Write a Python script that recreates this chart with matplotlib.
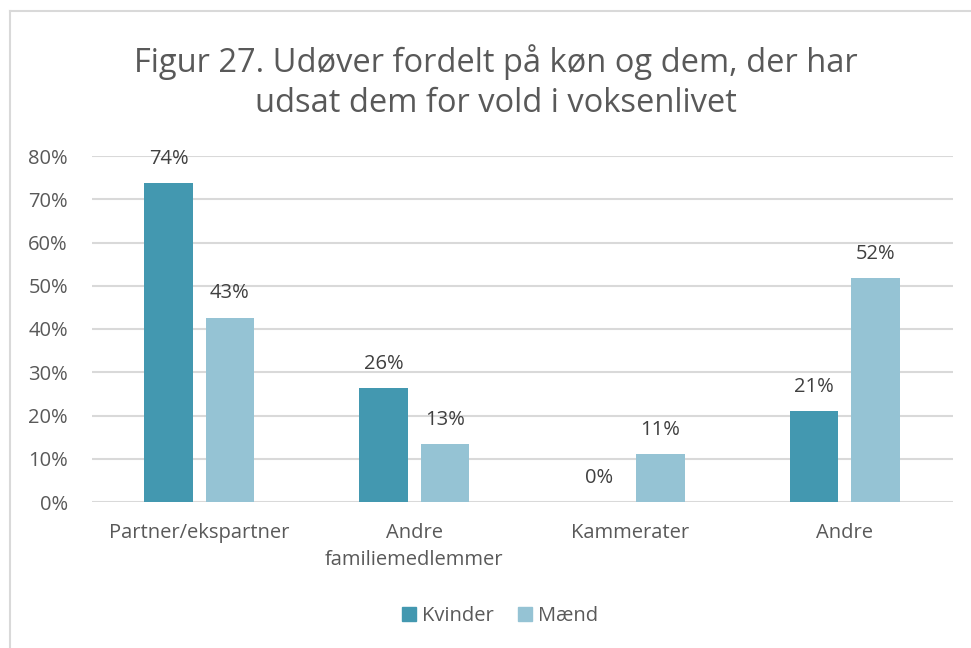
import numpy as np
import matplotlib.pyplot as plt
from matplotlib.lines import Line2D
from matplotlib.patches import Patch

#_Data__________________________________________________________________________
categories = ['Partner/ekspartner', 'Andre\nfamiliemedlemmer', 'Kammerater', 'Andre']
kvinder = [73.7, 26.3, 0.0, 21.0]
maend = [42.6, 13.3, 11.1, 51.8]
series_names = ['Kvinder', 'Mænd']
yticks = [0, 10, 20, 30, 40, 50, 60, 70, 80]

#_Style_________________________________________________________________________
plt.rcParams['font.family'] = ['Open Sans', 'DejaVu Sans']
col_k = '#4398B0'
col_m = '#95C3D4'
text_col = '#595959'
label_col = '#404040'
grid_col = '#D9D9D9'
fs = 14.5

W, H = 971, 648
fig = plt.figure(figsize=(W / 100, H / 100), dpi=100)
ax = fig.add_axes([91.5 / W, 1 - 502 / H, (952.5 - 91.5) / W, (502 - 156) / H])

x = np.arange(len(categories))
bw = 0.225
off = 0.1425
ax.bar(x - off, kvinder, bw, color=col_k, zorder=3)
ax.bar(x + off, maend, bw, color=col_m, zorder=3)

# data labels, offset in points above each bar
for xs, vals in [(x - off, kvinder), (x + off, maend)]:
    for xi, v in zip(xs, vals):
        ax.annotate(f'{v:.0f}%', (xi, v), xytext=(0, 17.5), textcoords='offset points',
                    ha='center', va='center', fontsize=fs, color=label_col)

ax.set_xlim(-0.5, len(categories) - 0.5)
ax.set_ylim(0, 80)
ax.set_yticks(yticks)
ax.set_yticklabels([f'{t}%' for t in yticks])
ax.set_xticks(x)
ax.set_xticklabels(categories, linespacing=1.5, fontsize=15)
ax.tick_params(axis='both', length=0, labelsize=fs, labelcolor=text_col)
ax.tick_params(axis='y', pad=17)
ax.tick_params(axis='x', pad=15)
ax.yaxis.grid(True, color=grid_col, linewidth=1.5, zorder=0)
for s in ax.spines.values():
    s.set_visible(False)

fig.text(496 / W, 1 - 82 / H, 'Figur 27. Udøver fordelt på køn og dem, der har\nudsat dem for vold i voksenlivet',
         ha='center', va='center', fontsize=23.5, color=text_col, linespacing=1.3)

handles = [Patch(color=col_k), Patch(color=col_m)]
fig.legend(handles, series_names, loc='center', bbox_to_anchor=(500 / W, 1 - 616 / H),
           ncol=2, frameon=False, fontsize=fs, labelcolor=text_col,
           handlelength=0.7, handleheight=0.7, handletextpad=0.3, columnspacing=1.2)

# chart frame
fig.add_artist(Line2D([10 / W, 10 / W], [0, 1 - 11 / H], color=grid_col, linewidth=1.5))
fig.add_artist(Line2D([10 / W, 1], [1 - 11 / H, 1 - 11 / H], color=grid_col, linewidth=1.5))

fig.savefig('out.png', dpi=100)
